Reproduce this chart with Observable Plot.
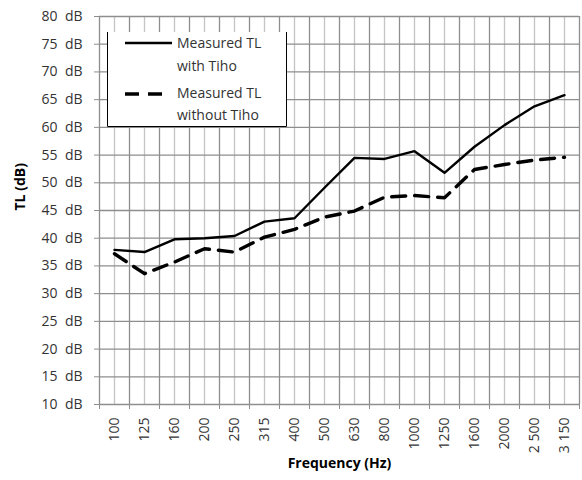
<!DOCTYPE html>
<html>
<head>
<meta charset="utf-8">
<script src="https://cdn.jsdelivr.net/npm/d3@7"></script>
<script src="https://cdn.jsdelivr.net/npm/@observablehq/plot@0.6"></script>
<style>
  html, body { margin: 0; padding: 0; background: #fff; }
  #chart svg { display: block; }
</style>
</head>
<body>
<div id="chart"></div>
<script>
const categories = ["100","125","160","200","250","315","400","500","630","800","1000","1250","1600","2000","2 500","3 150"];
const withTiho    = [37.9, 37.5, 39.8, 40.0, 40.4, 43.0, 43.6, 49.1, 54.5, 54.3, 55.7, 51.8, 56.5, 60.4, 63.8, 65.8];
const withoutTiho = [37.2, 33.6, 35.7, 38.1, 37.5, 40.2, 41.6, 43.8, 44.9, 47.4, 47.7, 47.3, 52.4, 53.3, 54.1, 54.6];
const yTicks = [10, 15, 20, 25, 30, 35, 40, 45, 50, 55, 60, 65, 70, 75, 80];
const seriesNames = [["Measured TL", "with Tiho"], ["Measured TL", "without Tiho"]];
const yLabel = "TL (dB)";
const xLabel = "Frequency (Hz)";

const n = categories.length;
const idx = d3.range(n);
const bounds = d3.range(n + 1).map(i => i - 0.5);
const rowsWith = idx.map(i => ({i, v: withTiho[i]}));
const rowsWithout = idx.map(i => ({i, v: withoutTiho[i]}));

const font = "'Open Sans', sans-serif";
const textColor = "#333";

const chart = Plot.plot({
  width: 582,
  height: 480,
  marginLeft: 99,
  marginRight: 3,
  marginTop: 16,
  marginBottom: 76,
  style: {fontFamily: font, fontSize: "14px", background: "#fff", color: textColor},
  x: {type: "linear", domain: [-0.5, n - 0.5], axis: null},
  y: {type: "linear", domain: [10, 80], axis: null},
  marks: [
    Plot.ruleX(idx, {x: d => d, stroke: "#c4c4c4", strokeWidth: 1.3}),
    Plot.ruleX(bounds, {x: d => d, stroke: "#8e8e8e", strokeWidth: 1.3}),
    Plot.ruleY(yTicks, {y: d => d, stroke: "#8e8e8e", strokeWidth: 1.3}),
    Plot.axisY({ticks: yTicks, tickFormat: d => `${d}  dB`, tickSize: 5, tickPadding: 12, label: null, stroke: "#8e8e8e", fill: textColor, fontSize: 14}),
    Plot.axisX({ticks: bounds, tickFormat: () => "", tickSize: 5, label: null, stroke: "#8e8e8e"}),
    Plot.axisX({ticks: idx, tickFormat: i => categories[i], tickSize: 0, tickPadding: 13, tickRotate: -90, label: null, fill: textColor, fontSize: 14}),
    Plot.line(rowsWith, {x: "i", y: "v", stroke: "#000", strokeWidth: 2.4}),
    Plot.line(rowsWithout, {x: "i", y: "v", stroke: "#000", strokeWidth: 3.4, strokeDasharray: "14,9"}),
    Plot.text([xLabel], {frameAnchor: "bottom", dy: 63, fontWeight: "bold", fontSize: 14, fill: "#000"}),
    Plot.text([yLabel], {frameAnchor: "left", dx: -79, rotate: -90, fontWeight: "bold", fontSize: 14, fill: "#000"})
  ]
});

document.getElementById("chart").appendChild(chart);

// Legend box
const svg = d3.select(chart);
const lg = svg.append("g").attr("font-family", font).attr("font-size", 14).attr("fill", textColor).attr("text-anchor", "start");
lg.append("rect").attr("x", 107).attr("y", 32).attr("width", 180).attr("height", 95).attr("fill", "#fff");
lg.append("path").attr("d", "M107.5,32V126.5H286.5V32").attr("fill", "none").attr("stroke", "#000").attr("stroke-width", 1);
lg.append("line").attr("x1", 125).attr("x2", 172).attr("y1", 43).attr("y2", 43).attr("stroke", "#000").attr("stroke-width", 2.4);
lg.append("line").attr("x1", 125).attr("x2", 164).attr("y1", 94).attr("y2", 94).attr("stroke", "#000").attr("stroke-width", 3.4).attr("stroke-dasharray", "14,9");
const lines = [[seriesNames[0][0], 43], [seriesNames[0][1], 66], [seriesNames[1][0], 93], [seriesNames[1][1], 115]];
lines.forEach(([t, y]) => {
  lg.append("text").attr("x", 177).attr("y", y).attr("dy", "0.35em").text(t);
});
</script>
</body>
</html>
